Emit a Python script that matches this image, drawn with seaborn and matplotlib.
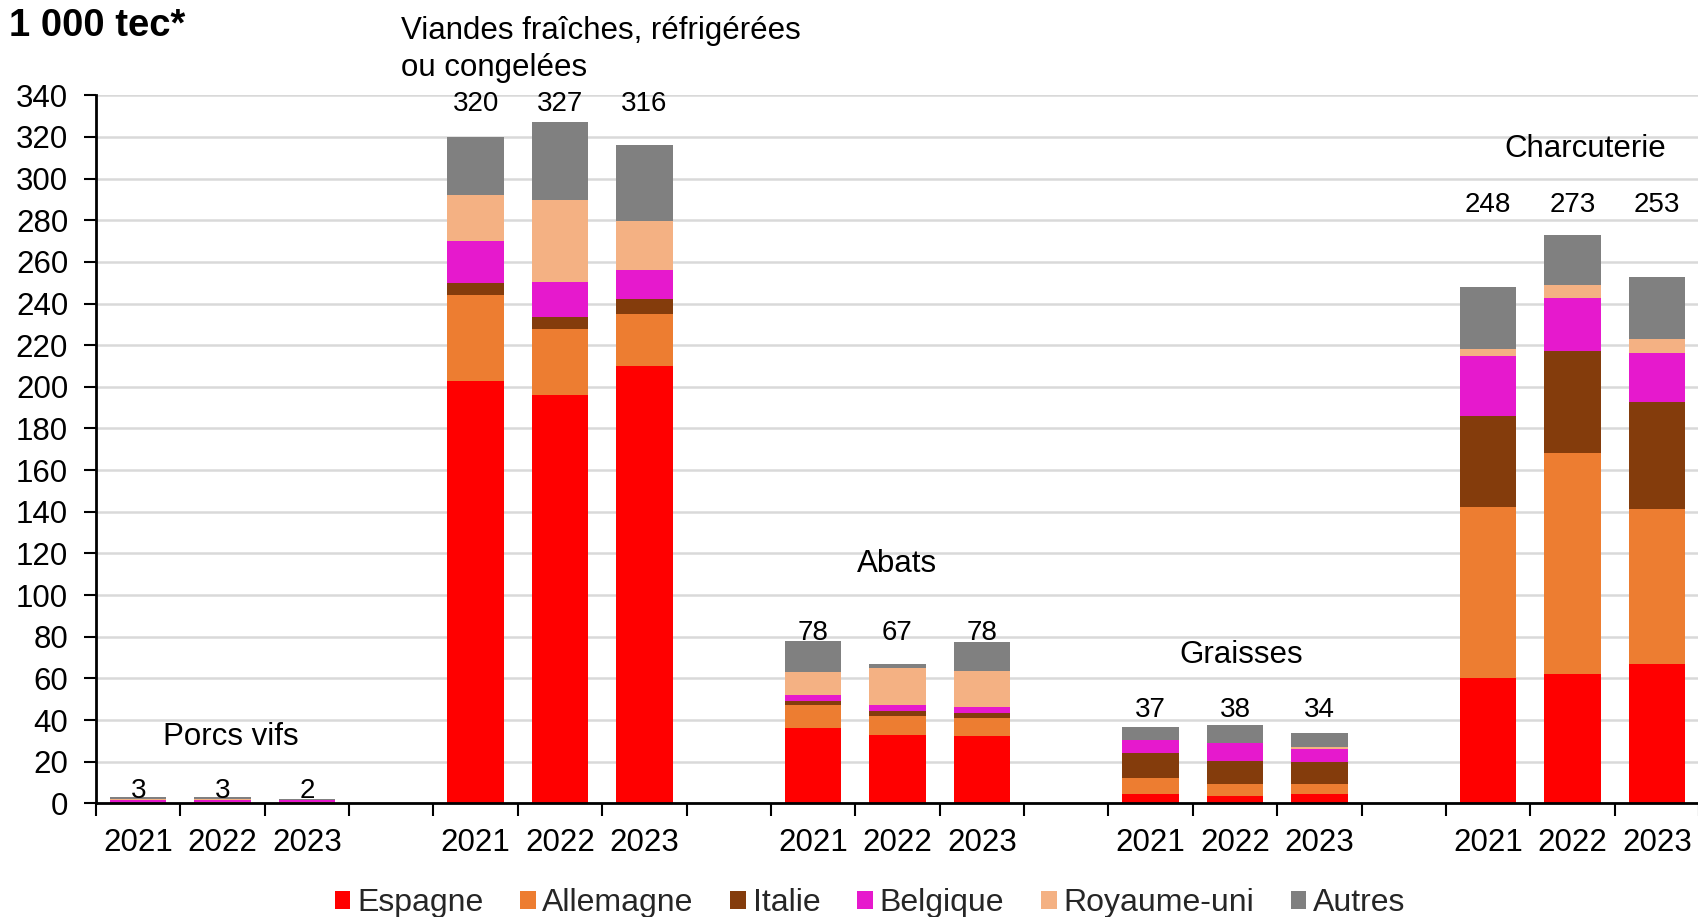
import matplotlib
matplotlib.use("Agg")
import matplotlib.pyplot as plt
from matplotlib.patches import Patch
import seaborn as sns
import pandas as pd
import numpy as np

# ---------------- data ----------------
years = ["2021", "2022", "2023"]
groups = ["Porcs vifs", "Viandes fraîches, réfrigérées\nou congelées", "Abats", "Graisses", "Charcuterie"]
series = ["Espagne", "Allemagne", "Italie", "Belgique", "Royaume-uni", "Autres"]

espagne    = [0.1, 0.1, 0.1,   203, 196, 210,   36, 32.6, 32.2,   4.4, 3.7, 4.7,   60, 62.3, 66.8]
allemagne  = [0.1, 0.5, 0.4,   41, 32, 25,      11, 9.3, 8.6,     7.7, 5.7, 4.7,   82.4, 106, 74.7]
italie     = [0.0, 0.1, 0.1,   6, 5.5, 7,       2.3, 2.6, 2.7,    12.1, 11.1, 10.4, 43.8, 48.7, 51]
belgique   = [1.6, 1.1, 0.9,   20, 17, 14,      2.7, 2.5, 2.9,    6.3, 8.5, 6.3,   28.8, 25.7, 23.9]
royaume_uni = [0.1, 0.1, 0.3,  22, 39, 23.5,    11, 18, 17,       0.0, 0.0, 0.7,   3.2, 6.3, 6.6]
autres     = [0.9, 0.9, 0.4,   28, 37.6, 36.5,  15, 1.7, 14.2,    6.3, 8.7, 7.1,   29.8, 23.9, 29.6]

values = [espagne, allemagne, italie, belgique, royaume_uni, autres]
colors = ["#FF0000", "#ED7D31", "#843C0C", "#E619CD", "#F4B183", "#808080"]

# ---------------- layout constants ----------------
label_y = [6, 336, 82, 45, 287.5]          # height of total labels per group
group_text_pos = [(1.1, 32), (3.12, 362), (8.99, 115), (13.07, 71), (17.15, 314)]
group_text_ha = ["center", "left", "center", "center", "center"]

# ---------------- build slots ----------------
slot_order = []
slot_labels = []
bar_slots = []
for gi in range(len(groups)):
    for y in years:
        sid = f"g{gi}_{y}"
        slot_order.append(sid)
        slot_labels.append(y)
        bar_slots.append(sid)
    if gi < len(groups) - 1:
        sid = f"gap{gi}"
        slot_order.append(sid)
        slot_labels.append("")

rows = []
cum = np.zeros(len(bar_slots))
for s, vals in zip(series, values):
    cum = cum + np.array(vals, dtype=float)
    for sid, c in zip(bar_slots, cum):
        rows.append({"slot": sid, "series": s, "cum": c})
df = pd.DataFrame(rows)
totals = cum

# ---------------- plot ----------------
sns.set_theme(style="white")
plt.rcParams["font.family"] = ["Liberation Sans", "DejaVu Sans"]

fig = plt.figure(figsize=(16.99, 9.17), dpi=100)
ax = fig.add_axes([96 / 1699, (917 - 803.3) / 917, 1 - 96 / 1699, (803.3 - 95.3) / 917])

for s, col in reversed(list(zip(series, colors))):
    sub = df[df["series"] == s]
    sns.barplot(data=sub, x="slot", y="cum", order=slot_order, color=col,
                saturation=1, width=0.67, errorbar=None, linewidth=0, ax=ax)

ax.set_xlim(-0.5, len(slot_order) - 0.5)
ax.set_ylim(0, 340)
ax.set_yticks(np.arange(0, 341, 20))
ax.set_xlabel("")
ax.set_ylabel("")

ax.set_xticks(range(len(slot_order)))
ax.set_xticklabels(slot_labels)
ax.set_xticks(np.arange(-0.5, len(slot_order), 1.0), minor=True)
ax.tick_params(axis="x", which="major", length=0, pad=18, labelsize=22.5, colors="black")
ax.tick_params(axis="x", which="minor", length=9, width=1.5, direction="out", color="black", bottom=True)
ax.tick_params(axis="y", which="major", length=9, width=1.5, direction="out", color="black",
               left=True, pad=11, labelsize=22.5, labelcolor="black")

ax.grid(axis="y", color="#D9D9D9", linewidth=1.8)
ax.set_axisbelow(True)
for sp in ["top", "right"]:
    ax.spines[sp].set_visible(False)
for sp in ["left", "bottom"]:
    ax.spines[sp].set_color("black")
    ax.spines[sp].set_linewidth(2)

# total labels
xpos = {sid: i for i, sid in enumerate(slot_order)}
for k, sid in enumerate(bar_slots):
    gi = k // 3
    ax.text(xpos[sid], label_y[gi], f"{round(totals[k]):d}", ha="center", va="center",
            fontsize=20, color="black")

# group labels
for g, (gx, gy), ha in zip(groups, group_text_pos, group_text_ha):
    ax.text(gx, gy, g, ha=ha, va="center", fontsize=22.5, color="black",
            linespacing=1.33, clip_on=False)

# unit title
fig.text(9 / 1699, 1 - 26 / 917, "1 000 tec*", fontsize=27.5, fontweight="bold",
         ha="left", va="center", color="black")

# legend
handles = [Patch(facecolor=c, edgecolor="none", label=s) for s, c in zip(series, colors)]
fig.legend(handles=handles, loc="center", bbox_to_anchor=(0.512, 14 / 917), ncol=6,
           frameon=False, fontsize=23, handlelength=0.5, handleheight=0.5,
           handletextpad=0.2, columnspacing=1.15, borderaxespad=0, borderpad=0)

fig.savefig("out.png", dpi=100)
